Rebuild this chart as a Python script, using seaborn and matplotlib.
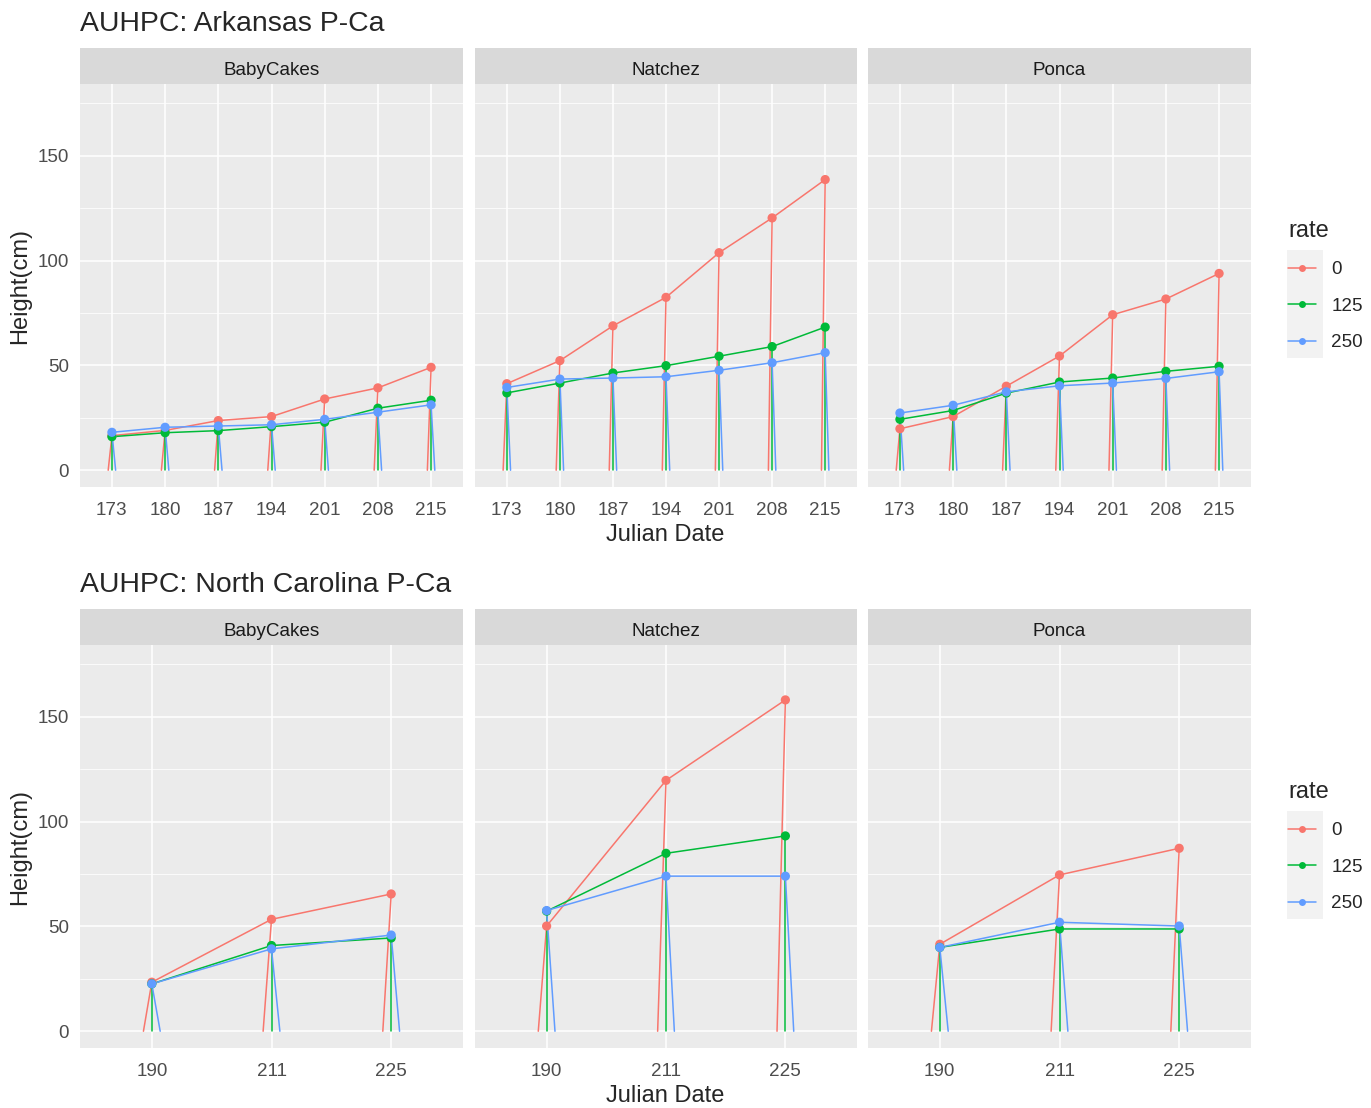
import numpy as np
import pandas as pd
import matplotlib
matplotlib.use("Agg")
import matplotlib.pyplot as plt
from matplotlib.lines import Line2D
from matplotlib.patches import Rectangle
import seaborn as sns

# datos
ark_dates = [173, 180, 187, 194, 201, 208, 215]
nc_dates = [190, 211, 225]
cultivars = ["BabyCakes", "Natchez", "Ponca"]
rates = ["0", "125", "250"]

ark_babycakes_0 = [16.5, 19.0, 23.7, 25.6, 34.0, 39.3, 49.1]
ark_babycakes_125 = [16.0, 17.9, 18.9, 20.8, 22.9, 29.6, 33.4]
ark_babycakes_250 = [18.1, 20.5, 21.1, 21.7, 24.3, 27.7, 31.2]
ark_natchez_0 = [41.3, 52.3, 68.9, 82.5, 103.8, 120.4, 138.7]
ark_natchez_125 = [36.9, 41.6, 46.4, 49.9, 54.4, 59.0, 68.3]
ark_natchez_250 = [39.5, 43.5, 44.0, 44.6, 47.7, 51.3, 56.1]
ark_ponca_0 = [19.8, 25.6, 40.1, 54.5, 74.2, 81.7, 93.9]
ark_ponca_125 = [24.3, 28.5, 36.8, 42.1, 44.0, 47.2, 49.6]
ark_ponca_250 = [27.3, 31.0, 37.4, 40.3, 41.6, 43.8, 47.0]

nc_babycakes_0 = [23.4, 53.4, 65.5]
nc_babycakes_125 = [22.6, 40.9, 44.5]
nc_babycakes_250 = [22.6, 39.3, 45.9]
nc_natchez_0 = [50.2, 119.7, 158.1]
nc_natchez_125 = [57.3, 84.9, 93.2]
nc_natchez_250 = [57.6, 74.0, 74.0]
nc_ponca_0 = [41.5, 74.6, 87.3]
nc_ponca_125 = [40.0, 48.8, 48.8]
nc_ponca_250 = [40.0, 52.0, 50.2]

ark_values = {
    "BabyCakes": [ark_babycakes_0, ark_babycakes_125, ark_babycakes_250],
    "Natchez": [ark_natchez_0, ark_natchez_125, ark_natchez_250],
    "Ponca": [ark_ponca_0, ark_ponca_125, ark_ponca_250],
}
nc_values = {
    "BabyCakes": [nc_babycakes_0, nc_babycakes_125, nc_babycakes_250],
    "Natchez": [nc_natchez_0, nc_natchez_125, nc_natchez_250],
    "Ponca": [nc_ponca_0, nc_ponca_125, nc_ponca_250],
}


def armar_tabla(dates, values):
    rows = []
    for cv in cultivars:
        for rate, serie in zip(rates, values[cv]):
            for i, (d, h) in enumerate(zip(dates, serie)):
                rows.append({"cultivar": cv, "rate": rate, "date": str(d), "pos": i, "height": h})
    return pd.DataFrame(rows)


df_ark = armar_tabla(ark_dates, ark_values)
df_nc = armar_tabla(nc_dates, nc_values)

# estilo tipo ggplot
sns.set_style("white")
plt.rcParams["font.family"] = ["Liberation Sans", "DejaVu Sans"]

palette = {"0": "#F8766D", "125": "#00BA38", "250": "#619CFF"}
dodge = {"0": -0.07, "125": 0.0, "250": 0.07}

W, H = 1371, 1108
fig = plt.figure(figsize=(W / 100, H / 100), dpi=100)
fig.patch.set_facecolor("white")


def caja(l, t, r, b):
    return [l / W, 1 - b / H, (r - l) / W, (b - t) / H]


paneles_x = [(80, 463), (475, 857), (868, 1251)]


def dibujar_bloque(df, dates, titulo, top):
    strip_t, strip_b = top, top + 36
    pan_b = top + 439
    for k, cv in enumerate(cultivars):
        l, r = paneles_x[k]
        ax = fig.add_axes(caja(l, strip_b, r, pan_b))
        ax.set_facecolor("#EBEBEB")
        sub = df[df["cultivar"] == cv]

        sns.lineplot(data=sub, x="pos", y="height", hue="rate", palette=palette,
                     estimator=None, linewidth=1.1, legend=False, ax=ax, zorder=2)
        # lineas verticales hasta cero (desplazadas por rate)
        for _, fila in sub.iterrows():
            ax.plot([fila["pos"], fila["pos"] + dodge[fila["rate"]]], [fila["height"], 0],
                    color=palette[fila["rate"]], linewidth=1.1, zorder=2)
        sns.scatterplot(data=sub, x="pos", y="height", hue="rate", palette=palette,
                        s=44, linewidth=0, legend=False, ax=ax, zorder=3)

        n = len(dates)
        ax.set_xlim(-0.6, n - 1 + 0.6)
        ax.set_ylim(-8.0, 184.3)
        ax.set_xticks(range(n))
        ax.set_xticklabels([str(d) for d in dates])
        ax.set_yticks([0, 50, 100, 150])
        ax.set_yticks([25, 75, 125, 175], minor=True)
        ax.grid(which="major", color="white", linewidth=1.1)
        ax.grid(which="minor", axis="y", color="white", linewidth=0.55)
        ax.set_axisbelow(True)
        for s in ax.spines.values():
            s.set_visible(False)
        ax.tick_params(which="major", length=3, width=0.8, color="#333333",
                       labelsize=13.6, labelcolor="#4D4D4D")
        ax.tick_params(axis="x", pad=7.5)
        ax.tick_params(axis="y", pad=5)
        ax.tick_params(which="minor", length=0)
        if k > 0:
            ax.tick_params(axis="y", length=0, labelleft=False)
        ax.set_xlabel("")
        ax.set_ylabel("")

        sax = fig.add_axes(caja(l, strip_t, r, strip_b))
        sax.set_facecolor("#D9D9D9")
        sax.set_xticks([])
        sax.set_yticks([])
        for s in sax.spines.values():
            s.set_visible(False)
        sax.text(0.5, 0.38, cv, ha="center", va="center", fontsize=13.6,
                 color="#1A1A1A", transform=sax.transAxes)

    fig.text(80 / W, 1 - (top - 24) / H, titulo, ha="left", va="center", fontsize=20.4)
    fig.text(665.5 / W, 1 - (top + 487) / H, "Julian Date", ha="center", va="center", fontsize=17)
    fig.text(20 / W, 1 - (top + 238) / H, "Height(cm)", ha="center", va="center",
             rotation=90, fontsize=17)

    # leyenda con fondo gris en las claves
    fig.add_artist(Rectangle(((1287) / W, 1 - (top + 310) / H), 36 / W, 108 / H,
                             transform=fig.transFigure, facecolor="#F2F2F2",
                             edgecolor="none", zorder=0))
    handles = [Line2D([0], [0], color=palette[r], linewidth=1.1, marker="o",
                      markersize=5, markeredgewidth=0) for r in rates]
    fig.legend(handles, rates, title="rate", loc="upper left",
               bbox_to_anchor=(1288 / W, 1 - (top + 172) / H), frameon=False,
               fontsize=13.6, title_fontsize=17, alignment="left", borderpad=0,
               borderaxespad=0, handlelength=1.5, handletextpad=0.8, labelspacing=1.02)


dibujar_bloque(df_ark, ark_dates, "AUHPC: Arkansas P-Ca", 48)
dibujar_bloque(df_nc, nc_dates, "AUHPC: North Carolina P-Ca", 609)

fig.savefig("out.png", dpi=100)
